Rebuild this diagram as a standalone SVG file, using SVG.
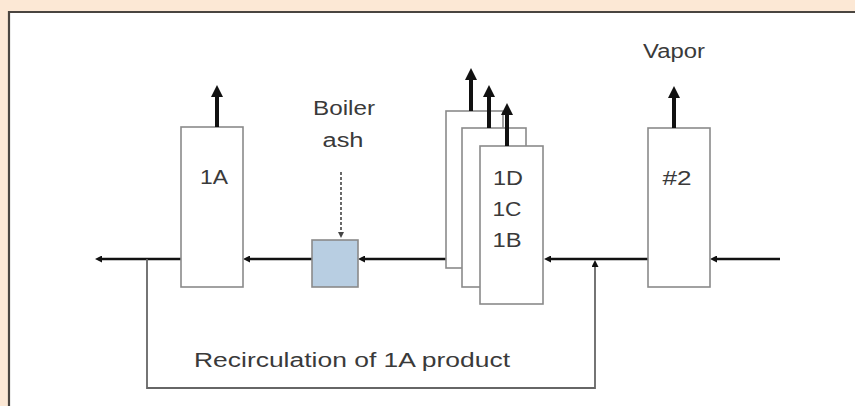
<svg xmlns="http://www.w3.org/2000/svg" width="855" height="406" viewBox="0 0 855 406">
<style>
.lbl{font-family:"Liberation Sans",Arial,sans-serif;font-size:20px;fill:#3a3a3a;text-anchor:middle}
.box{fill:#ffffff;stroke:#8a8a8a;stroke-width:1.6}
.flow{stroke:#111;stroke-width:2.5;fill:none}
.up{stroke:#111;stroke-width:4;fill:none}
.loop{stroke:#666;stroke-width:1.8;fill:none}
</style>
<defs>
<marker id="ah" viewBox="0 0 10 10" refX="0" refY="5" markerWidth="7" markerHeight="7" markerUnits="userSpaceOnUse" orient="auto"><path d="M0,0 L10,5 L0,10 z" fill="#111"/></marker>
<marker id="ahb" viewBox="0 0 10 10" refX="0" refY="5" markerWidth="12" markerHeight="12" markerUnits="userSpaceOnUse" orient="auto"><path d="M0,0 L10,5 L0,10 z" fill="#111"/></marker>
<marker id="ahd" viewBox="0 0 10 10" refX="0" refY="5" markerWidth="6" markerHeight="6" markerUnits="userSpaceOnUse" orient="auto"><path d="M0,0 L10,5 L0,10 z" fill="#444"/></marker>
</defs>
<rect x="0" y="0" width="855" height="406" fill="#fce8d5"/>
<rect x="8" y="11" width="847" height="395" fill="#ffffff"/>
<path d="M9,406 L9,12 L855,12" fill="none" stroke="#4a4540" stroke-width="2.2"/>

<g id="connectors">
<line class="flow" x1="780" y1="259" x2="717" y2="259" marker-end="url(#ah)"/>
<line class="flow" x1="648" y1="259" x2="551" y2="259" marker-end="url(#ah)"/>
<line class="flow" x1="446" y1="259" x2="365" y2="259" marker-end="url(#ah)"/>
<line class="flow" x1="312" y1="259" x2="250" y2="259" marker-end="url(#ah)"/>
<line class="flow" x1="181" y1="259" x2="102" y2="259" marker-end="url(#ah)"/>
<path class="loop" d="M147,259 L147,388 L595,388 L595,267" marker-end="url(#ah)"/>
<line x1="341" y1="172" x2="341" y2="232" stroke="#444" stroke-width="1.6" stroke-dasharray="3,2" marker-end="url(#ahd)"/>
</g>

<g id="node-1A">
<rect class="box" x="181" y="127" width="62" height="160"/>
<line class="up" x1="217" y1="127" x2="217" y2="97" marker-end="url(#ahb)"/>
<text class="lbl" x="214" y="184" textLength="28" lengthAdjust="spacingAndGlyphs">1A</text>
</g>

<g id="node-boiler-ash">
<text class="lbl" x="344" y="115" textLength="62" lengthAdjust="spacingAndGlyphs">Boiler</text>
<text class="lbl" x="343" y="147" textLength="41" lengthAdjust="spacingAndGlyphs">ash</text>
</g>

<g id="node-mixer">
<rect x="312" y="240" width="46" height="47" fill="#b8cee2" stroke="#8a8a8a" stroke-width="1.6"/>
</g>

<g id="node-1D">
<rect class="box" x="446" y="111" width="57" height="157"/>
<line class="up" x1="471" y1="111" x2="471" y2="80" marker-end="url(#ahb)"/>
</g>

<g id="node-1C">
<rect class="box" x="462" y="128" width="64" height="159"/>
<line class="up" x1="489" y1="128" x2="489" y2="97" marker-end="url(#ahb)"/>
</g>

<g id="node-1B">
<rect class="box" x="480" y="146" width="63" height="158"/>
<line class="up" x1="507" y1="146" x2="507" y2="115" marker-end="url(#ahb)"/>
<text class="lbl" x="508" y="185" textLength="30" lengthAdjust="spacingAndGlyphs">1D</text>
<text class="lbl" x="507" y="216" textLength="29" lengthAdjust="spacingAndGlyphs">1C</text>
<text class="lbl" x="507" y="247" textLength="29" lengthAdjust="spacingAndGlyphs">1B</text>
</g>

<g id="node-2">
<rect class="box" x="648" y="128" width="62" height="159"/>
<line class="up" x1="674" y1="128" x2="674" y2="98" marker-end="url(#ahb)"/>
<text class="lbl" x="677" y="185" textLength="29" lengthAdjust="spacingAndGlyphs">#2</text>
</g>

<g id="label-vapor">
<text class="lbl" x="674" y="58" textLength="62" lengthAdjust="spacingAndGlyphs">Vapor</text>
</g>

<g id="label-recirculation">
<text class="lbl" x="352" y="367" textLength="316" lengthAdjust="spacingAndGlyphs">Recirculation of 1A product</text>
</g>
</svg>
